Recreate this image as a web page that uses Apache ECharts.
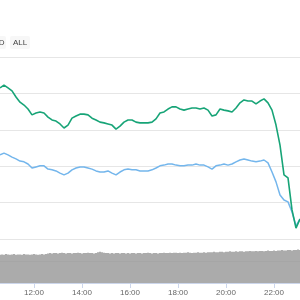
<!DOCTYPE html>
<html>
<head>
<meta charset="utf-8">
<script src="https://cdn.jsdelivr.net/npm/echarts@6/dist/echarts.min.js"></script>
<style>
html,body{margin:0;padding:0;background:#fff;}
#chart{width:300px;height:300px;}
</style>
</head>
<body>
<div id="chart"></div>
<script>
// Sample times (HH:MM) for the two price lines
const times = ['10:35','10:45','10:55','11:05','11:15','11:25','11:35','11:45','11:55','12:05',
'12:15','12:25','12:35','12:45','12:55','13:05','13:15','13:25','13:35','13:45',
'13:55','14:05','14:15','14:25','14:35','14:45','14:55','15:05','15:15','15:25',
'15:35','15:45','15:55','16:05','16:15','16:25','16:35','16:45','16:55','17:05',
'17:15','17:25','17:35','17:45','17:55','18:05','18:15','18:25','18:35','18:45',
'18:55','19:05','19:15','19:25','19:35','19:45','19:55','20:05','20:15','20:25',
'20:35','20:45','20:55','21:05','21:15','21:25','21:35','21:45','21:55','22:05',
'22:15','22:25','22:35','22:45','22:55','23:05'];

// Green series (USD price, relative units)
const greenValues = [415,423,415,407,390,376,368,357,341,346,
349,346,335,327,324,316,305,313,332,338,
343,343,341,332,327,321,319,316,313,302,
310,321,327,327,321,319,319,319,321,330,
346,349,357,363,363,357,354,357,360,360,
357,360,354,338,341,357,354,352,349,360,
374,382,379,379,371,379,385,374,354,313,
258,176,168,80,30,55];

// Blue series (BTC price, relative units)
const blueValues = [231,236,231,225,220,214,212,206,195,198,
201,201,192,190,187,181,176,181,190,195,
198,198,195,192,187,184,184,187,181,176,
184,190,192,190,190,187,187,187,190,195,
201,203,206,206,203,201,201,203,203,206,
203,203,198,192,201,203,206,203,206,212,
217,220,217,214,212,214,217,209,184,157,
121,107,102,74,36,55];

// Volume (5-minute bars, relative units)
const volumeValues = [64,65,64,66,65,64,65,66,64,65,65,64,66,65,65,64,65,66,65,64,65,66,65,66,67,
68,67,68,68,67,68,69,68,67,68,68,67,68,68,69,68,67,68,68,69,68,68,67,68,70,71,70,69,68,68,67,68,
67,68,68,67,68,68,67,68,67,68,68,67,68,68,67,68,68,69,68,67,68,68,67,68,
68,69,68,68,69,68,69,69,68,69,68,69,69,70,69,68,69,69,70,69,69,70,69,70,
70,70,71,70,70,71,71,70,71,71,72,71,71,72,71,72,72,71,72,72,73,72,72,73,72,73,73,72,73,74,73,73,74,73,74,74,75,74,74,75,75,74,75,75,76,75];
const volumeStart = '10:35';
const volumeStep = 5; // minutes

const tickLabels = ['12:00','14:00','16:00','18:00','20:00','22:00'];
const axisMin = '10:35', axisMax = '23:05';

function toMin(s){ const p = s.split(':'); return (+p[0])*60 + (+p[1]); }
function toLabel(m){ const h = Math.floor(m/60), mm = m%60; return (h<10?'0':'')+h+':'+(mm<10?'0':'')+mm; }

const greenData = times.map((t,i)=>[toMin(t), greenValues[i]]);
const blueData = times.map((t,i)=>[toMin(t), blueValues[i]]);
const volumeData = volumeValues.map((v,i)=>[toMin(volumeStart) + i*volumeStep, v]);
const tickValues = tickLabels.map(toMin);

const chart = echarts.init(document.getElementById('chart'), null, {renderer:'canvas'});
const gridColor = '#e6e6e6';
chart.setOption({
  animation:false,
  backgroundColor:'#ffffff',
  textStyle:{fontFamily:'Liberation Sans, Arial, sans-serif'},
  grid:[
    {left:0,right:0,top:57,height:182},
    {left:0,right:0,top:239,height:44}
  ],
  xAxis:[
    {type:'value',gridIndex:0,min:toMin(axisMin),max:toMin(axisMax),show:false},
    {type:'value',gridIndex:1,min:toMin(axisMin),max:toMin(axisMax),
     axisLine:{show:true,lineStyle:{color:'#ccd6eb',width:1}},
     axisTick:{show:true,length:5,lineStyle:{color:'#ccd6eb'},customValues:tickValues},
     axisLabel:{show:true,color:'#666666',fontSize:8,margin:6,customValues:tickValues,
       formatter:v=>toLabel(v)},
     splitLine:{show:false}}
  ],
  yAxis:[
    {type:'value',gridIndex:0,min:0,max:500,interval:100,
     axisLabel:{show:false},axisLine:{show:false},axisTick:{show:false},
     splitLine:{show:true,lineStyle:{color:gridColor,width:1}}},
    {type:'value',gridIndex:1,min:0,max:100,interval:50,
     axisLabel:{show:false},axisLine:{show:false},axisTick:{show:false},
     splitLine:{show:true,lineStyle:{color:gridColor,width:1}}}
  ],
  series:[
    {type:'bar',xAxisIndex:1,yAxisIndex:1,data:volumeData,barWidth:1.6,
     itemStyle:{color:'#969696',borderWidth:0},silent:true,z:1},
    {type:'line',xAxisIndex:0,yAxisIndex:0,data:blueData,showSymbol:false,
     lineStyle:{color:'#74b6ec',width:1.5},z:3},
    {type:'line',xAxisIndex:0,yAxisIndex:0,data:greenData,showSymbol:false,
     lineStyle:{color:'#17a477',width:1.6},z:4}
  ],
  graphic:[
    {type:'rect',shape:{x:-14,y:36,width:20,height:13,r:2},style:{fill:'#f7f7f7'}},
    {type:'text',x:4.5,y:42.5,style:{text:'YTD',fill:'#444',font:'8px Liberation Sans, Arial, sans-serif',align:'right',verticalAlign:'middle'}},
    {type:'rect',shape:{x:10,y:36,width:20,height:13,r:2},style:{fill:'#f7f7f7'}},
    {type:'text',x:20,y:42.5,style:{text:'ALL',fill:'#444',font:'8px Liberation Sans, Arial, sans-serif',align:'center',verticalAlign:'middle'}}
  ]
});
</script>
</body>
</html>
